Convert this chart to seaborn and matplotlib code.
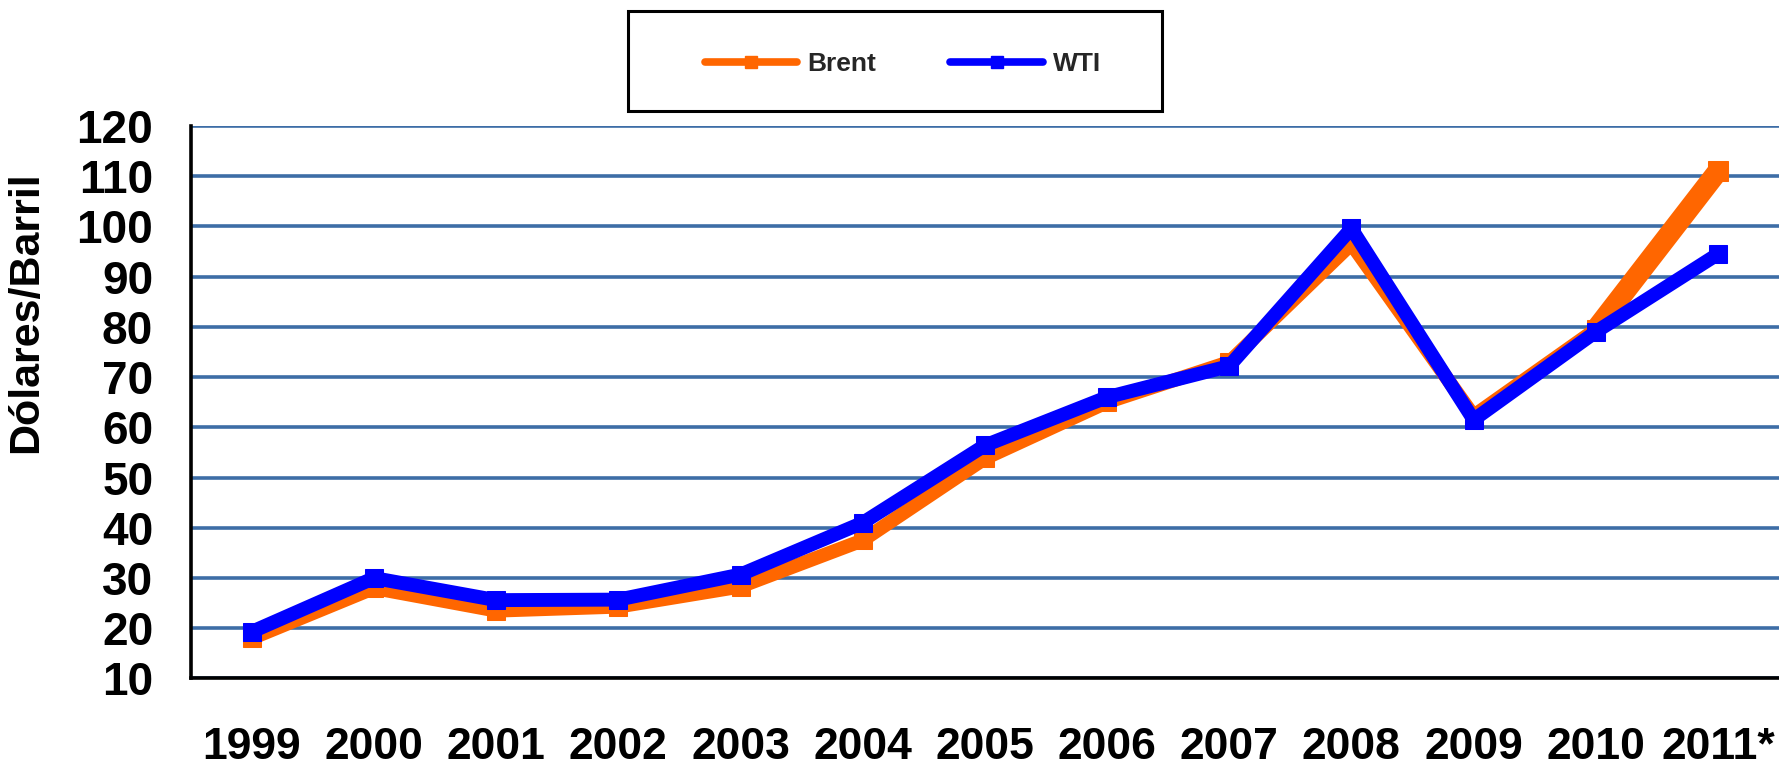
import numpy as np
import matplotlib
matplotlib.use("Agg")
import matplotlib.pyplot as plt
from matplotlib.lines import Line2D
from matplotlib.patches import Rectangle
import seaborn as sns

# Precio promedio anual del crudo (USD por barril)
years = ['1999', '2000', '2001', '2002', '2003', '2004', '2005',
         '2006', '2007', '2008', '2009', '2010', '2011*']
brent = [18.0, 28.0, 23.5, 24.3, 28.3, 37.5, 53.8, 65.0, 73.0, 96.5, 62.3, 79.5, 111.0]
wti = [19.3, 30.0, 25.6, 25.7, 30.7, 41.0, 56.4, 66.0, 72.2, 99.6, 61.5, 79.0, 94.5]
y_ticks = list(range(10, 121, 10))

BRENT_COLOR = '#FF6600'
WTI_COLOR = '#0000FF'
GRID_COLOR = '#3D6DA6'

sns.set_theme(style='white')
plt.rcParams['font.family'] = ['Liberation Sans', 'DejaVu Sans']

fig = plt.figure(figsize=(17.79, 7.65), dpi=100)
ax = fig.add_axes([0.1072, 0.1131, 0.8928, 0.7222])

x = np.arange(len(years))

# Brent underneath, WTI on top
sns.lineplot(x=x, y=brent, ax=ax, color=BRENT_COLOR, linewidth=10,
             marker='s', markersize=13, markeredgecolor=BRENT_COLOR,
             solid_joinstyle='round', zorder=3)
# last Brent segment is drawn heavier in the original
sns.lineplot(x=x[-2:], y=brent[-2:], ax=ax, color=BRENT_COLOR, linewidth=15,
             solid_capstyle='butt', zorder=3)
sns.lineplot(x=x[-1:], y=brent[-1:], ax=ax, color=BRENT_COLOR, linewidth=0,
             marker='s', markersize=15, markeredgecolor=BRENT_COLOR, zorder=3)
sns.lineplot(x=x, y=wti, ax=ax, color=WTI_COLOR, linewidth=10,
             marker='s', markersize=13, markeredgecolor=WTI_COLOR,
             solid_joinstyle='round', zorder=4)

ax.set_xlim(-0.5, 12.5)
ax.set_ylim(10, 120)
ax.set_yticks(y_ticks)
ax.set_xticks(x)
ax.set_xticklabels(years)

ax.set_axisbelow(True)
ax.yaxis.grid(True, color=GRID_COLOR, linewidth=2.6)
ax.xaxis.grid(False)

for side in ['top', 'right']:
    ax.spines[side].set_visible(False)
for side in ['left', 'bottom']:
    ax.spines[side].set_color('black')
    ax.spines[side].set_linewidth(2.6)
    ax.spines[side].set_zorder(5)

ax.tick_params(axis='y', length=0, pad=27, labelsize=33, labelcolor='black')
ax.tick_params(axis='x', length=0, pad=35, labelsize=32, labelcolor='black')
for lbl in ax.get_xticklabels() + ax.get_yticklabels():
    lbl.set_fontweight('bold')

ax.set_xlabel('')
ax.set_ylabel('Dólares/Barril', fontsize=31, fontweight='bold', color='black')
ax.yaxis.set_label_coords(-0.091, 0.663)

# legend above the plot, inside a plain black box
handles = [
    Line2D([0], [0], color=BRENT_COLOR, lw=5.5, marker='s', markersize=8,
           solid_capstyle='round'),
    Line2D([0], [0], color=WTI_COLOR, lw=5.5, marker='s', markersize=8,
           solid_capstyle='round'),
]
fig.legend(handles, ['Brent', 'WTI'], loc='center', ncol=2,
           bbox_to_anchor=(0.5076, 0.9163), frameon=False,
           prop={'size': 19, 'weight': 'bold'},
           handlelength=3.5, handletextpad=0.4, columnspacing=2.8)
fig.add_artist(Rectangle((628 / 1779, 1 - 110.7 / 765), (1162 - 628) / 1779, 100 / 765,
                         transform=fig.transFigure, fill=False,
                         edgecolor='black', linewidth=2.2))

fig.savefig('out.png', dpi=100)
